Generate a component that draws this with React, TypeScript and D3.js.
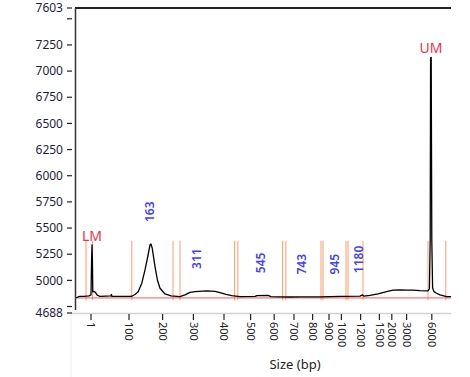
import React from "react";
import * as d3 from "d3";

const W = 470;
const H = 377;
const plot = { left: 75, right: 451, top: 8, bottom: 313 };

// Migration time window (s) and fluorescence range (FU)
const timeDomain = [30, 124];
const fuDomain = [4688, 7603];

// Ladder calibration: fragment size (bp) and migration time (s)
const ladderSizes = [1, 100, 200, 300, 400, 500, 600, 700, 800, 900, 1000, 1200, 1500, 2000, 3000, 6000];
const ladderTimes = [34.0, 43.5, 51.9, 59.6, 67.25, 73.9, 79.8, 84.75, 89.4, 93.5, 96.6, 101.4, 106.1, 109.2, 112.9, 119.2];

// Y axis ticks
const yTickMarks = [4688, 4750, 5000, 5250, 5500, 5750, 6000, 6250, 6500, 6750, 7000, 7250, 7500, 7603];
const yTickLabels = [4688, 5000, 5250, 5500, 5750, 6000, 6250, 6500, 6750, 7000, 7250, 7603];

// Electropherogram trace: time (s), fluorescence (FU)
const traceTime = [
  30.25, 30.75, 31.25, 32.25, 33.5, 34.0, 34.15, 34.25, 34.35, 34.45, 34.75, 35.1, 35.5, 36.25,
  39.0, 39.1, 39.25, 43.75, 44.2, 45.0, 45.8, 46.7, 47.5, 48.2, 48.75, 49.0, 49.3, 50.0, 50.6,
  51.25, 52.5, 54.0, 56.25, 57.5, 58.75, 60.0, 62.9, 65.0, 66.25, 67.75, 69.2, 71.25, 75.0, 75.5,
  78.25, 79.0, 83.75, 86.25, 91.25, 96.25, 101.25, 101.9, 102.25, 103.75, 105.75, 107.9, 109.5,
  111.25, 113.0, 114.5, 116.25, 118.2, 118.6, 118.8, 118.9, 119.05, 119.2, 119.4, 119.75, 120.4,
  121.25, 122.9, 124.0,
];
const traceFU = [
  4832, 4841, 4846, 4846, 4851, 4861, 5196, 5340, 5177, 4889, 4894, 4885, 4861, 4846,
  4851, 4865, 4846, 4846, 4848, 4865, 4892, 4973, 5100, 5228, 5340, 5347, 5308, 5132, 5004,
  4925, 4870, 4851, 4844, 4861, 4885, 4892, 4899, 4894, 4883, 4867, 4854, 4844, 4846, 4854,
  4856, 4844, 4841, 4843, 4843, 4846, 4849, 4861, 4849, 4856, 4870, 4892, 4906,
  4909, 4906, 4906, 4901, 4899, 4918, 5388, 7128, 7130, 5388, 4928, 4892, 4877,
  4861, 4844, 4844,
];

// Baseline level (FU)
const baselineFU = 4832;

// Peak region boundaries (s)
const regionBounds = [32.75, 34.4, 44.2, 54.5, 56.25, 69.9, 70.7, 81.9, 82.7, 91.5, 92.0, 97.75, 98.25, 102.0, 118.25, 122.7];
const regionTopFU = 5378;
const regionBottomFU = 4810;

// Called peaks: size (bp) and height (FU)
const peakSizes = [163, 311, 545, 743, 945, 1180];
const peakHeights = [5347, 4899, 4858, 4845, 4846, 4858];

// Markers: lower and upper
const markerNames = ["LM", "UM"];
const markerTimes = [34.25, 119.0];
const markerHeights = [5340, 7130];

export default function App() {
  const x = d3.scaleLinear().domain(timeDomain).range([plot.left, plot.right]);
  const y = d3.scaleLinear().domain(fuDomain).range([plot.bottom, plot.top]);
  const sizeToTime = d3.scaleLinear().domain(ladderSizes).range(ladderTimes);

  const pts: [number, number][] = traceTime.map((t, i) => [t, traceFU[i]]);
  const line = d3
    .line<[number, number]>()
    .x((d) => x(d[0]))
    .y((d) => y(d[1]));

  const axisColor = "#1e1e3c";
  const font = "'Noto Sans', 'Open Sans', sans-serif";

  return (
    <svg
      width={W}
      height={H}
      style={{ position: "absolute", left: 0, top: 0, background: "#fff" }}
      fontFamily={font}
    >
      {/* x axis band and left guide */}
      <line x1={71} x2={71} y1={plot.bottom} y2={H} stroke="#efefef" strokeWidth={1} />
      <line x1={71} x2={plot.right} y1={plot.bottom + 0.5} y2={plot.bottom + 0.5} stroke="#d2d2d2" strokeWidth={1.5} />

      {/* region boundaries */}
      {regionBounds.map((t, i) => (
        <line
          key={"r" + i}
          x1={x(t)}
          x2={x(t)}
          y1={y(regionTopFU)}
          y2={y(regionBottomFU)}
          stroke="#ff8a50"
          strokeWidth={1}
          opacity={0.85}
        />
      ))}

      {/* baseline */}
      <line
        x1={plot.left + 2}
        x2={plot.right}
        y1={y(baselineFU)}
        y2={y(baselineFU)}
        stroke="#f25a5a"
        strokeWidth={1}
      />

      {/* trace */}
      <path d={line(pts) ?? ""} fill="none" stroke="#000" strokeWidth={1.3} strokeLinejoin="round" />

      {/* frame */}
      <line x1={plot.left} x2={plot.right} y1={plot.top} y2={plot.top} stroke="#222" strokeWidth={2} />
      <line x1={plot.left + 0.5} x2={plot.left + 0.5} y1={plot.top} y2={plot.bottom - 3} stroke="#333" strokeWidth={1.5} />

      {/* y ticks */}
      {yTickMarks.map((v) => (
        <line key={"yt" + v} x1={67} x2={72} y1={y(v)} y2={y(v)} stroke="#222" strokeWidth={1.2} />
      ))}
      {yTickLabels.map((v) => (
        <text key={"yl" + v} x={63} y={y(v)} dy="0.35em" textAnchor="end" fontSize={12} fill={axisColor}>
          {v}
        </text>
      ))}

      {/* x ticks (size ladder) */}
      {ladderSizes.map((s) => {
        const px = x(sizeToTime(s));
        return (
          <g key={"xt" + s}>
            <line x1={px} x2={px} y1={plot.bottom + 1} y2={plot.bottom + 7} stroke="#222" strokeWidth={1.2} />
            <text
              transform={`translate(${px},${plot.bottom + 9}) rotate(90)`}
              dy="0.35em"
              textAnchor="start"
              fontSize={11}
              fill="#222"
            >
              {s}
            </text>
          </g>
        );
      })}

      {/* x axis title */}
      <text x={295} y={369} textAnchor="middle" fontSize={13} fill="#222">
        Size (bp)
      </text>

      {/* peak size labels */}
      {peakSizes.map((s, i) => {
        const px = x(sizeToTime(s));
        const py = y(peakHeights[i]) - 22;
        return (
          <text
            key={"pk" + s}
            transform={`translate(${px},${py}) rotate(-90)`}
            dy="0.35em"
            textAnchor="start"
            fontSize={12}
            fontWeight={600}
            fill="#4040ff"
          >
            {s}
          </text>
        );
      })}

      {/* marker labels */}
      {markerNames.map((m, i) => (
        <text
          key={m}
          x={x(markerTimes[i])}
          y={y(markerHeights[i]) - 4}
          textAnchor="middle"
          fontSize={14}
          fill="#f0304a"
        >
          {m}
        </text>
      ))}
    </svg>
  );
}
